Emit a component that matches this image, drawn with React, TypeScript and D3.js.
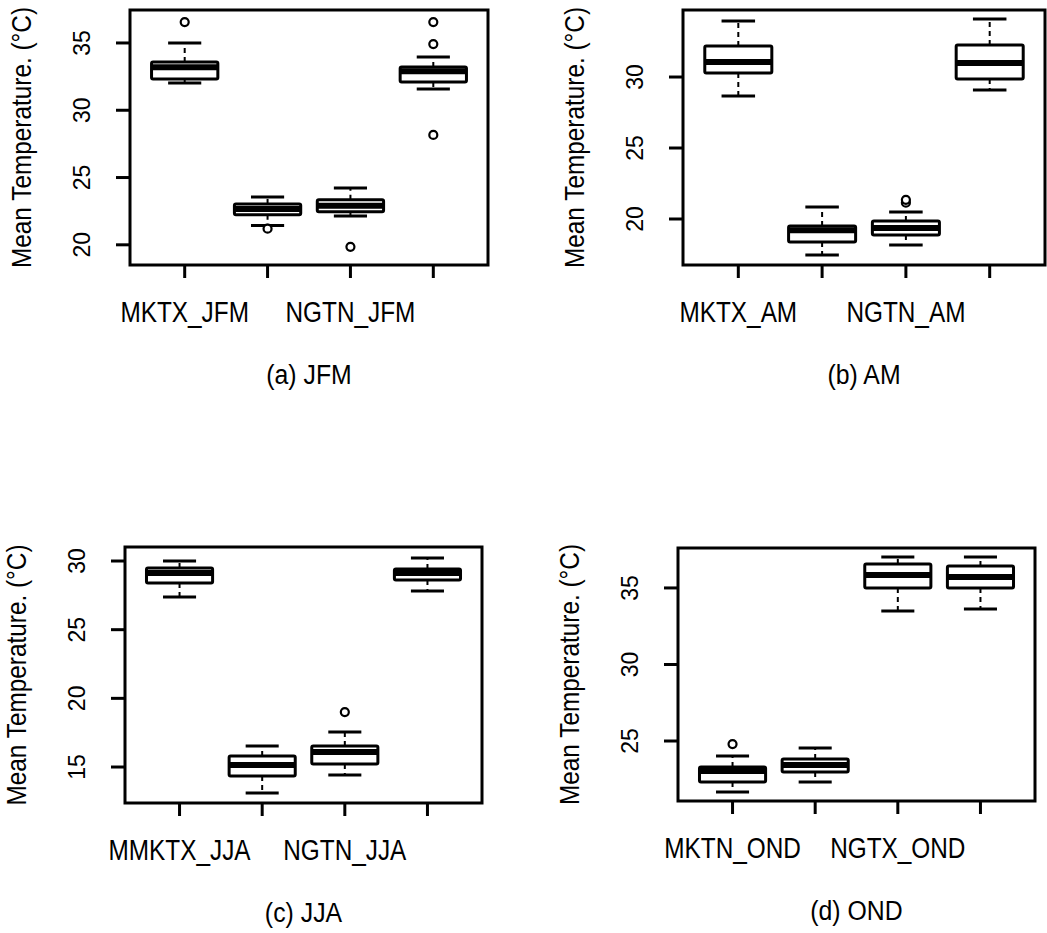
import React from "react";
import * as d3 from "d3";

// ---------- data ----------
const panelTitles = ["(a) JFM", "(b) AM", "(c) JJA", "(d) OND"];
const yAxisTitle = "Mean Temperature. (°C)";

const jfmLabels = ["MKTX_JFM", "", "NGTN_JFM", ""];
const amLabels = ["MKTX_AM", "", "NGTN_AM", ""];
const jjaLabels = ["MMKTX_JJA", "", "NGTN_JJA", ""];
const ondLabels = ["MKTN_OND", "", "NGTX_OND", ""];

// [lower whisker, Q1, median, Q3, upper whisker]
const jfmStats = [
  [32.03, 32.32, 33.2, 33.59, 35.0],
  [21.44, 22.23, 22.67, 23.04, 23.56],
  [22.15, 22.45, 22.9, 23.34, 24.23],
  [31.58, 32.1, 32.9, 33.21, 33.96],
];
const jfmOutliers = [[36.55], [21.2], [19.85], [36.55, 34.92, 28.17]];

const amStats = [
  [28.66, 30.28, 31.06, 32.18, 33.94],
  [17.46, 18.38, 19.2, 19.51, 20.85],
  [18.17, 18.87, 19.37, 19.86, 20.49],
  [29.08, 29.86, 30.99, 32.25, 34.08],
];
const amOutliers = [[], [], [21.15, 21.35], []];

const jjaStats = [
  [27.38, 28.4, 29.13, 29.49, 30.0],
  [13.1, 14.34, 15.15, 15.8, 16.53],
  [14.42, 15.22, 16.09, 16.53, 17.55],
  [27.82, 28.62, 29.13, 29.42, 30.22],
];
const jjaOutliers = [[], [], [19.0], []];

const ondStats = [
  [21.67, 22.32, 23.04, 23.3, 24.02],
  [22.32, 22.97, 23.43, 23.82, 24.54],
  [33.5, 35.0, 35.85, 36.57, 37.03],
  [33.63, 35.0, 35.72, 36.44, 37.03],
];
const ondOutliers = [[24.8], [], [], []];

const jfmTicks = [20, 25, 30, 35];
const amTicks = [20, 25, 30];
const jjaTicks = [15, 20, 25, 30];
const ondTicks = [25, 30, 35];

const jfmDomain = [18.5, 37.45];
const amDomain = [16.76, 34.72];
const jjaDomain = [12.38, 31.02];
const ondDomain = [21.08, 37.61];

// ---------- layout ----------
const frames = [
  { left: 130, top: 10, right: 488, bottom: 265 },
  { left: 683, top: 10, right: 1045, bottom: 265 },
  { left: 125, top: 547, right: 482, bottom: 803 },
  { left: 678, top: 548, right: 1035, bottom: 801 },
];

const panels = [
  { stats: jfmStats, outliers: jfmOutliers, labels: jfmLabels, ticks: jfmTicks, domain: jfmDomain },
  { stats: amStats, outliers: amOutliers, labels: amLabels, ticks: amTicks, domain: amDomain },
  { stats: jjaStats, outliers: jjaOutliers, labels: jjaLabels, ticks: jjaTicks, domain: jjaDomain },
  { stats: ondStats, outliers: ondOutliers, labels: ondLabels, ticks: ondTicks, domain: ondDomain },
];

const FONT = "'Liberation Sans', Arial, Helvetica, sans-serif";

function Txt({ x, y, rotate = 0, size, sx = 1, children }: any) {
  return (
    <text
      transform={`translate(${x},${y})${rotate ? ` rotate(${rotate})` : ""} scale(${sx},1)`}
      fontSize={size}
      fontFamily={FONT}
      textAnchor="middle"
      fill="#000"
    >
      {children}
    </text>
  );
}

function Panel({ idx }: { idx: number }) {
  const f = frames[idx];
  const p = panels[idx];
  const x = d3.scaleLinear().domain([0.34, 4.66]).range([f.left, f.right]);
  const y = d3.scaleLinear().domain(p.domain).range([f.bottom, f.top]);
  const unit = x(2) - x(1);
  const boxW = unit * 0.8;
  const stapleW = boxW * 0.5;
  const cx = (f.left + f.right) / 2;
  const cy = (f.top + f.bottom) / 2;

  return (
    <g>
      {/* boxes */}
      {p.stats.map((s, i) => {
        const xc = x(i + 1);
        const [lw, q1, med, q3, uw] = s;
        return (
          <g key={i}>
            <line x1={xc} x2={xc} y1={y(q3)} y2={y(uw)} stroke="#000" strokeWidth={2} strokeDasharray="5,4" />
            <line x1={xc} x2={xc} y1={y(q1)} y2={y(lw)} stroke="#000" strokeWidth={2} strokeDasharray="5,4" />
            <line x1={xc - stapleW / 2} x2={xc + stapleW / 2} y1={y(uw)} y2={y(uw)} stroke="#000" strokeWidth={3} />
            <line x1={xc - stapleW / 2} x2={xc + stapleW / 2} y1={y(lw)} y2={y(lw)} stroke="#000" strokeWidth={3} />
            <rect
              x={xc - boxW / 2}
              y={y(q3)}
              width={boxW}
              height={y(q1) - y(q3)}
              fill="#fff"
              stroke="#000"
              strokeWidth={3}
              rx={1.5}
            />
            <line x1={xc - boxW / 2} x2={xc + boxW / 2} y1={y(med)} y2={y(med)} stroke="#000" strokeWidth={6} />
            {p.outliers[i].map((o, j) => (
              <circle key={j} cx={xc} cy={y(o)} r={4} fill="#fff" stroke="#000" strokeWidth={2.2} />
            ))}
          </g>
        );
      })}

      {/* frame */}
      <rect x={f.left} y={f.top} width={f.right - f.left} height={f.bottom - f.top} fill="none" stroke="#000" strokeWidth={3} />

      {/* y axis */}
      {p.ticks.map((t) => (
        <g key={t}>
          <line x1={f.left - 14} x2={f.left} y1={y(t)} y2={y(t)} stroke="#000" strokeWidth={3} />
          <Txt x={f.left - 40} y={y(t)} rotate={-90} size={23}>
            {t}
          </Txt>
        </g>
      ))}

      {/* x axis */}
      {p.stats.map((_, i) => (
        <line key={i} x1={x(i + 1)} x2={x(i + 1)} y1={f.bottom} y2={f.bottom + 13} stroke="#000" strokeWidth={3} />
      ))}
      {p.labels.map((l, i) =>
        l ? (
          <Txt key={i} x={x(i + 1)} y={f.bottom + 57} size={29} sx={0.84}>
            {l}
          </Txt>
        ) : null
      )}

      {/* y title */}
      <Txt x={f.left - 99} y={cy} rotate={-90} size={28} sx={0.87}>
        {yAxisTitle}
      </Txt>

      {/* panel title */}
      <Txt x={cx} y={f.bottom + 119} size={27} sx={0.92}>
        {panelTitles[idx]}
      </Txt>
    </g>
  );
}

export default function App() {
  return (
    <svg
      width={1047}
      height={933}
      style={{ position: "absolute", left: 0, top: 0, background: "#fff" }}
    >
      <rect x={0} y={0} width={1047} height={933} fill="#fff" />
      {[0, 1, 2, 3].map((i) => (
        <Panel key={i} idx={i} />
      ))}
    </svg>
  );
}
